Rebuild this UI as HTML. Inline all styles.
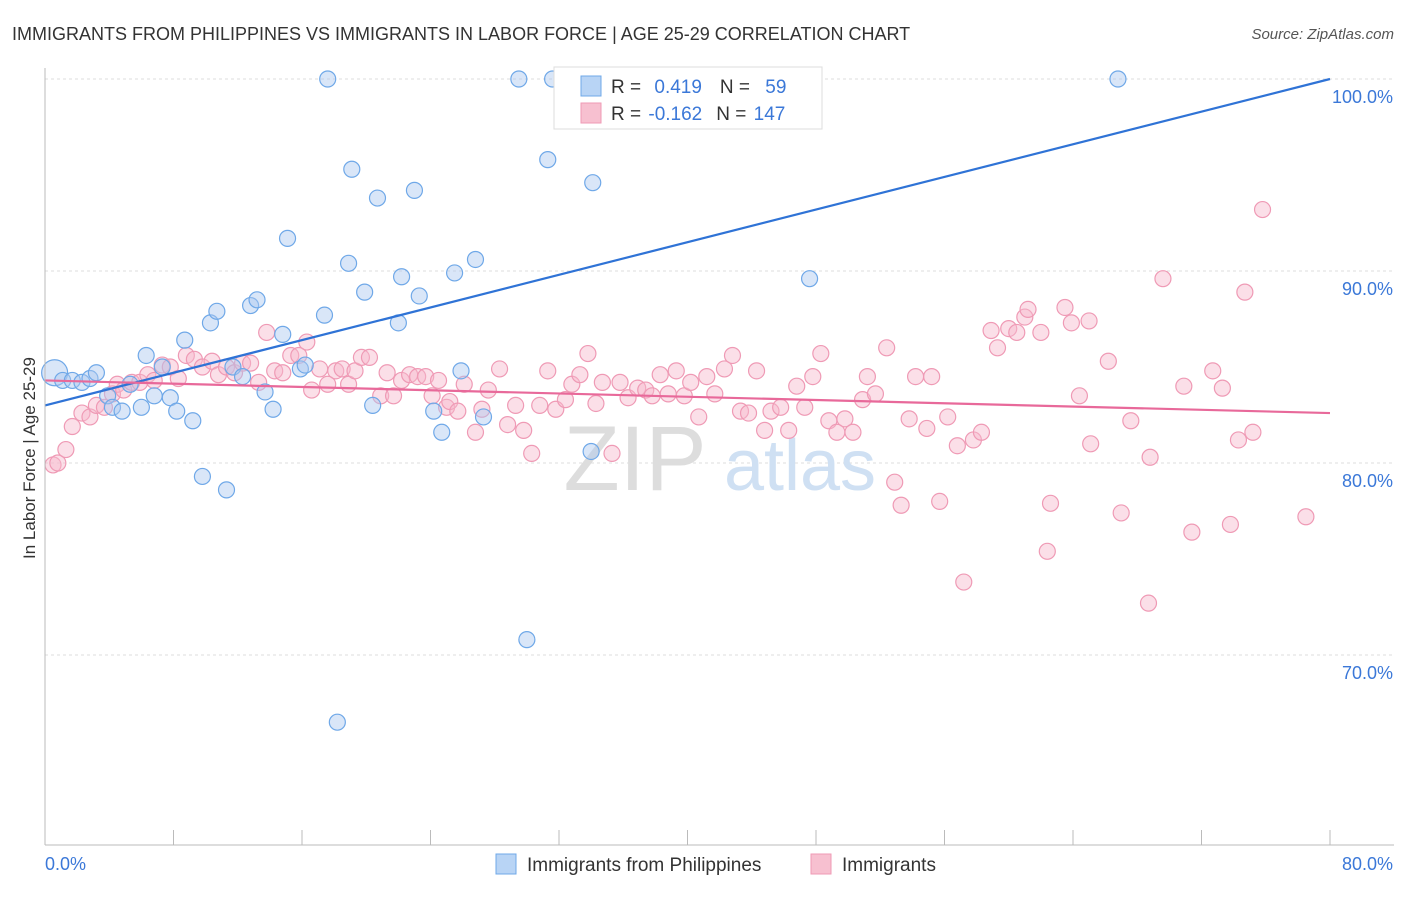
<!DOCTYPE html>
<html><head><meta charset="utf-8"><style>
body{margin:0;background:#fff;font-family:"Liberation Sans",sans-serif;}
svg text{font-family:"Liberation Sans",sans-serif;}
</style></head><body>
<svg id="chart" width="1406" height="892" viewBox="0 0 1406 892" xmlns="http://www.w3.org/2000/svg">
<text x="12" y="40" font-size="18" fill="#333">IMMIGRANTS FROM PHILIPPINES VS IMMIGRANTS IN LABOR FORCE | AGE 25-29 CORRELATION CHART</text>
<text x="1394" y="39" font-size="15" fill="#555" font-style="italic" text-anchor="end">Source: ZipAtlas.com</text>
<g id="grid"></g>
<g><text x="635" y="490" font-size="92" fill="#ddd" font-family="Liberation Serif" text-anchor="middle">ZIP</text><text x="800" y="490" font-size="72" fill="#cfe0f3" text-anchor="middle">atlas</text></g>
<g id="pinkPts"></g>
<g id="bluePts"></g>
<g id="lines"></g>
<g id="axes"></g>
<text x="35" y="458" font-size="17" fill="#333" text-anchor="middle" transform="rotate(-90 35 458)">In Labor Force | Age 25-29</text>
<g>
<rect x="554" y="67" width="268" height="62" fill="#fff" stroke="#ddd"/>
<rect x="581" y="76" width="20" height="20" fill="#b8d4f5" stroke="#6fa8e8"/>
<rect x="581" y="103" width="20" height="20" fill="#f7c0d0" stroke="#ef9ab5"/>
<text x="611" y="93" font-size="19" fill="#333">R = <tspan fill="#3b78d8" dx="8">0.419</tspan><tspan dx="18" fill="#333">N = </tspan><tspan fill="#3b78d8" dx="10">59</tspan></text>
<text x="611" y="120" font-size="19" fill="#333">R = <tspan fill="#3b78d8" dx="2">-0.162</tspan><tspan dx="14" fill="#333">N = </tspan><tspan fill="#3b78d8" dx="2">147</tspan></text>
</g>
<g>
<rect x="496" y="854" width="20" height="20" fill="#b8d4f5" stroke="#6fa8e8"/>
<text x="527" y="871" font-size="19" fill="#333">Immigrants from Philippines</text>
<rect x="811" y="854" width="20" height="20" fill="#f7c0d0" stroke="#ef9ab5"/>
<text x="842" y="871" font-size="19" fill="#333">Immigrants</text>
</g>
</svg>
<script>
const yTicks=[100,90,80,70];
const yTickLabels=["100.0%","90.0%","80.0%","70.0%"];
const xTickLabels=["0.0%","80.0%"];
const blueX=[0.6,1.1,1.7,2.3,2.8,3.2,3.9,4.2,4.8,5.3,6.0,6.3,6.8,7.3,7.8,8.2,8.7,9.2,9.8,10.3,10.7,11.3,11.7,12.3,12.8,13.2,13.7,14.2,14.8,15.1,15.9,16.2,17.4,17.6,18.2,18.9,19.1,19.9,20.4,20.7,22.0,22.2,23.0,23.3,24.2,24.7,25.5,25.9,26.8,27.3,29.5,30.0,31.3,31.6,34.0,34.1,47.6,66.8];
const blueY=[84.7,84.3,84.3,84.2,84.4,84.7,83.5,82.9,82.7,84.1,82.9,85.6,83.5,85.0,83.4,82.7,86.4,82.2,79.3,87.3,87.9,78.6,85.0,84.5,88.2,88.5,83.7,82.8,86.7,91.7,84.9,85.1,87.7,100,66.5,90.4,95.3,88.9,83.0,93.8,87.3,89.7,94.2,88.7,82.7,81.6,89.9,84.8,90.6,82.4,100,70.8,95.8,100,80.6,94.6,89.6,100];
const pinkX=[0.5,0.8,1.3,1.7,2.3,2.8,3.2,3.7,4.2,4.5,4.9,5.4,5.9,6.4,6.8,7.3,7.8,8.3,8.8,9.3,9.8,10.4,10.8,11.3,11.8,12.3,12.8,13.3,13.8,14.3,14.8,15.3,15.8,16.3,16.6,17.1,17.6,18.1,18.5,18.9,19.3,19.7,20.2,20.9,21.3,21.7,22.2,22.7,23.2,23.7,24.1,24.5,25.0,25.2,25.7,26.1,26.8,27.2,27.6,28.3,28.8,29.3,29.8,30.3,30.8,31.3,31.8,32.4,32.8,33.3,33.8,34.3,34.7,35.3,35.8,36.3,36.9,37.4,37.8,38.3,38.8,39.3,39.8,40.2,40.7,41.2,41.7,42.3,42.8,43.3,43.8,44.3,44.8,45.2,45.8,46.3,46.8,47.3,47.8,48.3,48.8,49.3,49.8,50.3,50.9,51.2,51.7,52.4,52.9,53.3,53.8,54.2,54.9,55.2,55.7,56.2,56.8,57.2,57.8,58.3,58.9,59.3,60.0,60.5,61.0,61.2,62.0,62.4,62.6,63.5,63.9,64.4,65.0,65.1,66.2,67.0,67.6,68.7,68.8,69.6,70.9,71.4,72.7,73.3,73.8,74.3,74.7,75.2,75.8,78.5];
const pinkY=[79.9,80.0,80.7,81.9,82.6,82.4,83.0,82.9,83.6,84.1,83.8,84.2,84.2,84.6,84.3,85.1,85.0,84.4,85.6,85.4,85.0,85.3,84.6,85.0,84.7,85.2,85.2,84.2,86.8,84.8,84.7,85.6,85.6,86.3,83.8,84.9,84.1,84.8,84.9,84.1,84.8,85.5,85.5,83.5,84.7,83.5,84.3,84.6,84.5,84.5,83.5,84.3,82.9,83.2,82.7,84.1,81.6,82.8,83.8,84.9,82.0,83.0,81.7,80.5,83.0,84.8,82.8,83.3,84.1,84.6,85.7,83.1,84.2,80.5,84.2,83.4,83.9,83.8,83.5,84.6,83.6,84.8,83.5,84.2,82.4,84.5,83.6,84.9,85.6,82.7,82.6,84.8,81.7,82.7,82.9,81.7,84.0,82.9,84.5,85.7,82.2,81.6,82.3,81.6,83.3,84.5,83.6,86.0,79.0,77.8,82.3,84.5,81.8,84.5,78.0,82.4,80.9,73.8,81.2,81.6,86.9,86.0,87.0,86.8,87.6,88.0,86.8,75.4,77.9,88.1,87.3,83.5,87.4,81.0,85.3,77.4,82.2,72.7,80.3,89.6,84.0,76.4,84.8,83.9,76.8,81.2,88.9,81.6,93.2,77.2];
const blueTrend=[[0,83.0],[80,100]];
const pinkTrend=[[0,84.3],[80,82.6]];
const NS="http://www.w3.org/2000/svg";
const X0=45,X1=1330,Y100=79,PX10=192;
function sx(v){return X0+(v/80)*(X1-X0);}
function sy(v){return Y100+(100-v)*PX10/10;}
function mk(tag,attrs,parent){const e=document.createElementNS(NS,tag);for(const k in attrs)e.setAttribute(k,attrs[k]);parent.appendChild(e);return e;}
const grid=document.getElementById('grid'),axes=document.getElementById('axes');
yTicks.forEach((t,i)=>{
  const l=mk('line',{x1:X0,x2:1394,y1:sy(t),y2:sy(t),stroke:'#ddd','stroke-dasharray':'3,3'},grid);
  
  
  const tx=mk('text',{x:1393,y:sy(t)+24,'font-size':18,fill:'#3b78d8','text-anchor':'end'},axes);
  tx.textContent=yTickLabels[i];
  
  
});
const xl=mk('line',{x1:X0,x2:1394,y1:845,y2:845,stroke:'#bbb'},axes);


const yl=mk('line',{x1:X0,x2:X0,y1:68,y2:845,stroke:'#bbb'},axes);


for(let i=0;i<=10;i++){
  const tk=mk('line',{x1:sx(i*8),x2:sx(i*8),y1:830,y2:845,stroke:'#bbb'},axes);
  
  
}
[[0,'start',xTickLabels[0]],[80,'end',xTickLabels[1]]].forEach(a=>{
  const t=mk('text',{x:a[0]===0?45:1393,y:870,'font-size':18,fill:'#3b78d8','text-anchor':a[1]},axes);
  t.textContent=a[2];
  
  
});
const pg=document.getElementById('pinkPts');
pinkX.forEach((x,i)=>{
  const c=mk('circle',{cx:sx(x),cy:sy(pinkY[i]),r:8,fill:'rgba(247,185,205,0.45)',stroke:'#ef9ab5','stroke-width':1.2},pg);
  
  
});
const bg=document.getElementById('bluePts');
blueX.forEach((x,i)=>{
  const c=mk('circle',{cx:sx(x),cy:sy(blueY[i]),r:i===0?13:8,fill:'rgba(170,200,240,0.45)',stroke:'#6fa8e8','stroke-width':1.2},bg);
  
  
});
const lg=document.getElementById('lines');
const bl=mk('line',{x1:sx(blueTrend[0][0]),y1:sy(blueTrend[0][1]),x2:sx(blueTrend[1][0]),y2:sy(blueTrend[1][1]),stroke:'#2f73d6','stroke-width':2.2},lg);


const pl=mk('line',{x1:sx(pinkTrend[0][0]),y1:sy(pinkTrend[0][1]),x2:sx(pinkTrend[1][0]),y2:sy(pinkTrend[1][1]),stroke:'#e8699a','stroke-width':2.2},lg);


</script>
</body></html>
